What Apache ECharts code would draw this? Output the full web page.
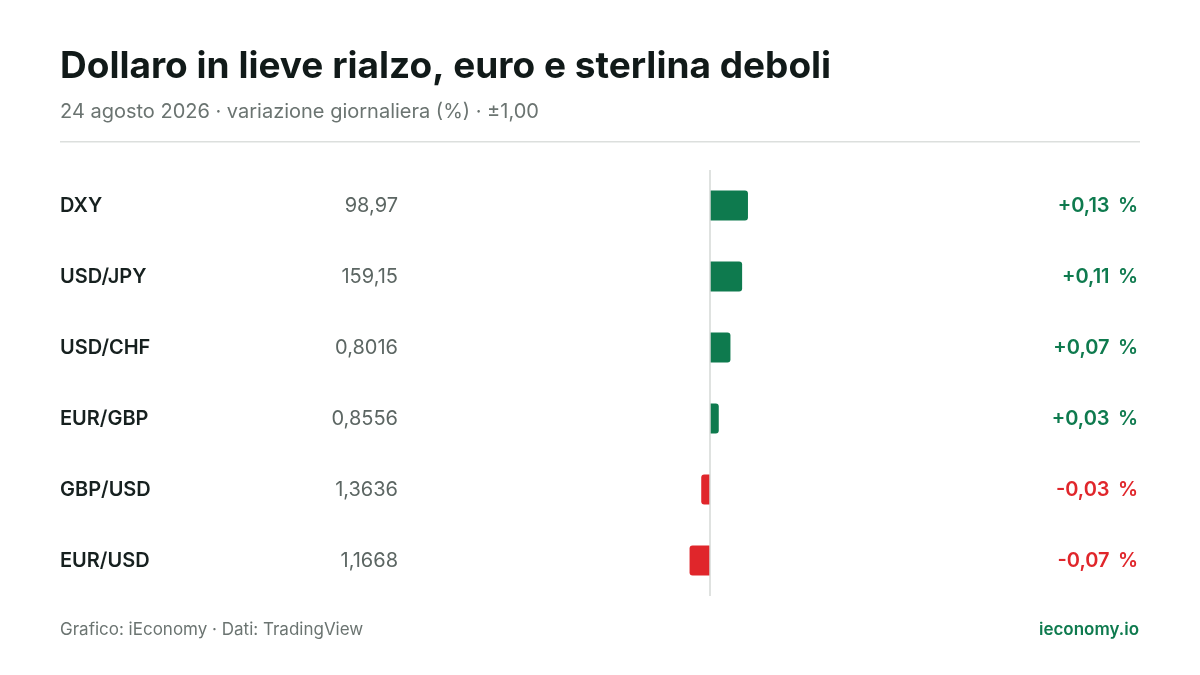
<!DOCTYPE html>
<html>
<head>
<meta charset="utf-8">
<script src="https://cdn.jsdelivr.net/npm/echarts@6/dist/echarts.min.js"></script>
<style>html,body{margin:0;background:#fff}#chart{width:1200px;height:675px}</style>
</head>
<body>
<div id="chart"></div>
<script>
// dati
const pairs = ['DXY', 'USD/JPY', 'USD/CHF', 'EUR/GBP', 'GBP/USD', 'EUR/USD'];
const prices = ['98,97', '159,15', '0,8016', '0,8556', '1,3636', '1,1668'];
const changes = [0.13, 0.11, 0.07, 0.03, -0.03, -0.07];

const GREEN = '#0e7a4e', RED = '#e0262b';
const fmt = v => (v >= 0 ? '+' : '-') + Math.abs(v).toFixed(2).replace('.', ',') + ' \u2009%';

const chart = echarts.init(document.getElementById('chart'));
chart.setOption({
  backgroundColor: '#fff',
  textStyle: { fontFamily: 'Inter' },
  animation: false,
  grid: { left: 418, right: 198, top: 170, height: 426 },
  xAxis: {
    type: 'value', min: -1, max: 1, show: false
  },
  yAxis: [
    {
      type: 'category', data: pairs, inverse: true,
      axisLine: { show: false }, axisTick: { show: false },
      axisLabel: { align: 'left', margin: 358, fontSize: 20, fontWeight: 600, color: '#16201f' }
    },
    {
      type: 'category', data: prices, inverse: true, position: 'left',
      axisLine: { show: false }, axisTick: { show: false },
      axisLabel: { align: 'right', margin: 20, fontSize: 20, color: '#5c6663' }
    },
    {
      type: 'category', data: changes, inverse: true, position: 'right',
      axisLine: { show: false }, axisTick: { show: false },
      axisLabel: {
        align: 'right', margin: 136, fontSize: 20, fontWeight: 600,
        formatter: v => fmt(+v),
        color: v => (+v >= 0 ? GREEN : RED)
      }
    }
  ],
  series: [{
    type: 'bar',
    barWidth: 30,
    data: changes.map(v => ({
      value: v,
      itemStyle: { color: v >= 0 ? GREEN : RED, borderRadius: v >= 0 ? [0, 3, 3, 0] : [3, 0, 0, 3] }
    })),
    markLine: {
      silent: true, symbol: 'none', label: { show: false },
      lineStyle: { color: '#d4d8d6', type: 'solid', width: 1.5 },
      data: [{ xAxis: 0 }]
    }
  }],
  graphic: [
    { type: 'text', left: 60, top: 48, style: { text: 'Dollaro in lieve rialzo, euro e sterlina deboli', font: '700 37px Inter', fill: '#111a19' } },
    { type: 'text', left: 60, top: 102, style: { text: '24 agosto 2026 · variazione giornaliera (%) · ±1,00', font: '20px Inter', fill: '#6b7471' } },
    { type: 'rect', shape: { x: 60, y: 141, width: 1080, height: 1.5 }, style: { fill: '#dcdfdd' } },
    { type: 'text', left: 60, top: 621, style: { text: 'Grafico: iEconomy · Dati: TradingView', font: '17px Inter', fill: '#6b7471' } },
    { type: 'text', right: 61, top: 621, style: { text: 'ieconomy.io', font: '600 17px Inter', fill: GREEN } }
  ]
});
</script>
</body>
</html>
